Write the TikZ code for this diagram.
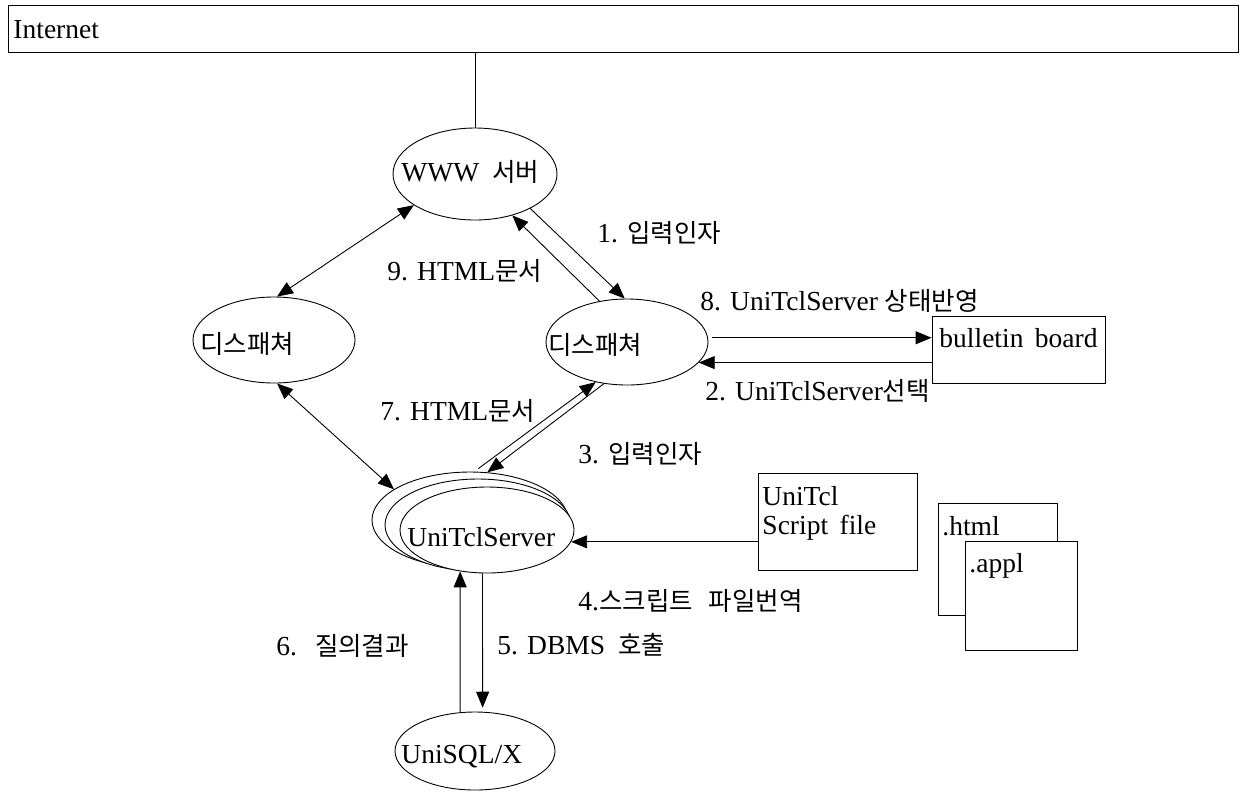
\documentclass[tikz,border=0pt]{standalone}
\usepackage{fontspec}
\setmainfont{Liberation Serif}
\newfontfamily\krfont{Noto Sans CJK KR}
\newcommand\ko[1]{{\krfont\fontsize{25.5}{30}\selectfont #1}}
\usetikzlibrary{shapes.geometric,arrows.meta}
\begin{document}
\begin{tikzpicture}[x=1pt,y=-1pt,
  line width=0.9pt,
  lbl/.style={anchor=base west, inner sep=0pt, font=\fontsize{27.5}{32}\selectfont},
  ell/.style={draw, ellipse, inner sep=0pt, fill=white},
  box/.style={draw, rectangle, inner sep=0pt, fill=white},
  arr/.style={-{Triangle[length=16pt,width=13pt]}},
  darr/.style={{Triangle[length=16pt,width=13pt]}-{Triangle[length=16pt,width=13pt]}}
]
\useasboundingbox (0,0) rectangle (1244,796);

% Internet bar
\node[box, minimum width=1230pt, minimum height=47pt] (inet) at (623,28.5) {};
\node[lbl] (tinet) at (13,38) {Internet};

% ellipses
\node[ell, minimum width=164pt, minimum height=92pt] (www) at (475,174) {};
\node[lbl] (twww) at (401,181) {WWW\hspace{6pt} \ko{서버}};

\node[ell, minimum width=162pt, minimum height=86pt] (disp1) at (274,340) {};
\node[lbl] (tdisp1) at (200,353) {\ko{디스패쳐}};

\node[ell, minimum width=162pt, minimum height=86pt] (disp2) at (627,342) {};
\node[lbl] (tdisp2) at (548,354) {\ko{디스패쳐}};

\node[ell, minimum width=196pt, minimum height=96pt] (uts1) at (470,520) {};
\node[ell, minimum width=186pt, minimum height=92pt] (uts2) at (478,525) {};
\node[ell, minimum width=174pt, minimum height=86pt] (uts3) at (487,530) {};
\node[lbl] (tuts) at (407,546) {UniTclServer};

\node[ell, minimum width=160pt, minimum height=78pt] (usql) at (475,751) {};
\node[lbl] (tusql) at (401,763) {UniSQL/X};

% boxes
\node[box, minimum width=173pt, minimum height=67pt] (bb) at (1018.5,349.5) {};
\node[lbl] (tbb) at (939,347) {bulletin\, board};

\node[box, minimum width=159pt, minimum height=97pt] (sf) at (837.5,521.5) {};
\node[lbl] (tsf1) at (762,505) {UniTcl};
\node[lbl] (tsf2) at (762,534) {Script\, file};

\node[box, minimum width=119pt, minimum height=112pt] (html) at (997.5,559) {};
\node[lbl] (thtml) at (942,535) {.html};
\node[box, minimum width=112pt, minimum height=109pt] (appl) at (1021,595.5) {};
\node[lbl] (tappl) at (969,572) {.appl};

% connectors
\draw (inet.south -| www.north) -- (www.north);

\draw[arr] (www.-32) -- (disp2.93);
\draw[arr] (disp2.124) -- (www.-48);
\draw[darr] (www.207) -- (disp1.86);
\draw[darr] (disp1.274) -- (uts1.158);
\draw[arr, shorten <=5pt] (uts1.85) -- (disp2.232);
\draw[arr] (disp2.241) -- (uts1.70);

\draw[arr, shorten <=4pt] (disp2.3) -- (disp2.3 -| bb.west);
\draw[arr] (bb.west |- disp2.-16) -- (disp2.-16);

\draw[arr] (sf.west |- uts3.-8) -- (uts3.-8);

\draw[arr] (usql.111) -- (uts3.-123);
\draw[arr, shorten >=4pt] (uts3.-96.6) -- (usql.79.8);

% labels
\node[lbl] (l1) at (597,242) {1. \ko{입력인자}};
\node[lbl] (l9) at (387,280) {9. HTML\ko{문서}};
\node[lbl] (l8) at (700,310) {8. UniTclServer \ko{상태반영}};
\node[lbl] (l2) at (705,400) {2. UniTclServer\ko{선택}};
\node[lbl] (l7) at (380,420) {7. HTML\ko{문서}};
\node[lbl] (l3) at (578,463) {3. \ko{입력인자}};
\node[lbl] (l4) at (578,610) {4.\ko{스크립트}\hspace{16pt}\ko{파일번역}};
\node[lbl] (l6) at (276,655) {6.\hspace{18pt}\ko{질의결과}};
\node[lbl] (l5) at (497,654) {5. DBMS\hspace{6pt} \ko{호출}};
\end{tikzpicture}
\end{document}
